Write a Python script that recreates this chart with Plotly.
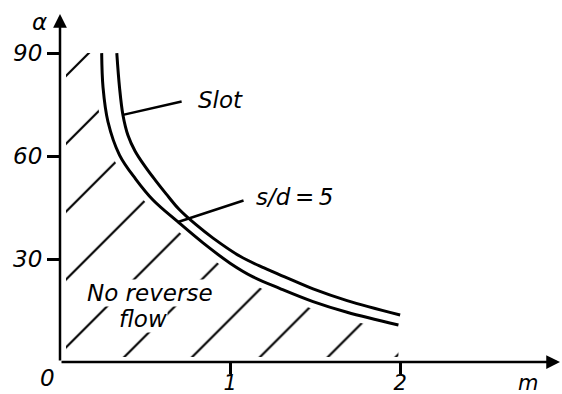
import numpy as np
import plotly.graph_objects as go

# s/d = 5 curve (inner, lower-left)
inner_m = [0.245, 0.253, 0.282, 0.350, 0.445, 0.547, 0.694, 0.841, 1.0, 1.135, 1.294, 1.488, 1.688, 1.99]
inner_a = [90.0, 80.0, 70.0, 60.3, 53.3, 47.2, 40.8, 34.7, 28.8, 24.8, 21.4, 17.6, 14.5, 10.8]

# Slot curve (outer, upper-right)
outer_m = [0.334, 0.350, 0.370, 0.400, 0.441, 0.50, 0.56, 0.624, 0.70, 0.80, 0.90, 1.059, 1.20, 1.335, 1.488, 1.688, 2.0]
outer_a = [90.0, 80.0, 72.0, 66.0, 61.5, 57.0, 53.0, 49.0, 44.5, 40.0, 36.1, 30.8, 27.4, 24.5, 21.3, 17.9, 13.7]

x_ticks = [1, 2]
y_ticks = [30, 60, 90]

X_MAX = 2.94
Y_MAX = 101.4

FONT = "DejaVu Sans"


def px(m):
    return m / X_MAX


def py(a):
    return a / Y_MAX


fig = go.Figure()

# hatched "no reverse flow" region (bounded by axes and s/d=5 curve)
fig.add_trace(go.Scatter(
    x=[0.0] + inner_m, y=[inner_a[0]] + inner_a,
    mode="none", fill="tozeroy", fillcolor="white",
    fillpattern=dict(shape="/", fgcolor="black", bgcolor="white", fgopacity=1,
                     size=48, solidity=0.045),
    hoverinfo="skip", showlegend=False,
))

# white bands so the hatching stops short of the curve and axes
fig.add_trace(go.Scatter(x=inner_m, y=inner_a, mode="lines",
                         line=dict(color="white", width=14, shape="spline"),
                         hoverinfo="skip", showlegend=False))
fig.add_trace(go.Scatter(x=[0, 0], y=[0, inner_a[0]], mode="lines",
                         line=dict(color="white", width=12),
                         hoverinfo="skip", showlegend=False))
fig.add_trace(go.Scatter(x=[0, inner_m[-1]], y=[0, 0], mode="lines",
                         line=dict(color="white", width=10),
                         hoverinfo="skip", showlegend=False))

fig.add_trace(go.Scatter(x=inner_m, y=inner_a, mode="lines",
                         line=dict(color="black", width=3, shape="spline"),
                         showlegend=False))
fig.add_trace(go.Scatter(x=outer_m, y=outer_a, mode="lines",
                         line=dict(color="black", width=3, shape="spline"),
                         showlegend=False))

# axes with arrowheads
fig.add_annotation(x=0, y=Y_MAX, ax=0, ay=0, xref="x", yref="y", axref="x", ayref="y",
                   showarrow=True, arrowhead=2, arrowsize=1.1, arrowwidth=2.5,
                   arrowcolor="black", text="", standoff=0)
fig.add_annotation(x=X_MAX, y=0, ax=0, ay=0, xref="x", yref="y", axref="x", ayref="y",
                   showarrow=True, arrowhead=2, arrowsize=1.1, arrowwidth=2.5,
                   arrowcolor="black", text="", standoff=0)

# leader lines
slot_m = 0.37
slot_a = float(np.interp(slot_m, outer_m, outer_a))
fig.add_annotation(x=slot_m, y=slot_a, ax=0.724, ay=76.0, xref="x", yref="y",
                   axref="x", ayref="y", showarrow=True, arrowhead=0, arrowwidth=2.5,
                   arrowcolor="black", text="", standoff=0)
sd_m = 0.694
sd_a = float(np.interp(sd_m, inner_m, inner_a))
fig.add_annotation(x=sd_m, y=sd_a, ax=1.088, ay=47.2, xref="x", yref="y",
                   axref="x", ayref="y", showarrow=True, arrowhead=0, arrowwidth=2.5,
                   arrowcolor="black", text="", standoff=0)

tf = dict(family=FONT, size=23, color="black", style="italic")
fig.add_annotation(x=0.80, y=76.3, text="Slot", showarrow=False, xanchor="left", font=tf)
fig.add_annotation(x=1.14, y=48.1, text="s/d\u2009=\u20095", showarrow=False,
                   xanchor="left", font=tf)
fig.add_annotation(x=0.53, y=20.2, text="No reverse", showarrow=False, font=tf,
                   bgcolor="white", borderpad=0)
fig.add_annotation(x=0.49, y=12.4, text="flow", showarrow=False, font=tf,
                   bgcolor="white", borderpad=0)
fig.add_annotation(x=px(-0.12), y=py(99.0), xref="paper", yref="paper", text="α",
                   xanchor="center", yanchor="middle", showarrow=False, font=tf)
fig.add_annotation(x=px(2.75), y=py(-6.0), xref="paper", yref="paper", text="m",
                   xanchor="center", yanchor="middle", showarrow=False,
                   font=dict(family=FONT, size=21, color="black", style="italic"))
fig.add_annotation(x=px(-0.075), y=py(-4.6), xref="paper", yref="paper", text="0",
                   xanchor="center", yanchor="middle", showarrow=False, font=tf)

xtf = dict(family=FONT, size=21, color="black", style="italic")
fig.update_xaxes(range=[0, X_MAX], tickvals=x_ticks, ticktext=[str(v) for v in x_ticks],
                 ticks="outside", ticklen=11, tickwidth=2.5, tickcolor="black",
                 tickfont=xtf, ticklabelstandoff=-9, showgrid=False, zeroline=False,
                 showline=False, automargin=False)
fig.update_yaxes(range=[0, Y_MAX], tickvals=y_ticks, ticktext=[str(v) for v in y_ticks],
                 ticks="outside", ticklen=12, tickwidth=2.5, tickcolor="black",
                 tickfont=tf, showgrid=False, zeroline=False, showline=False,
                 automargin=False)

fig.update_layout(width=562, height=394, margin=dict(l=60, r=2, t=14, b=32),
                  plot_bgcolor="white", paper_bgcolor="white")

fig.write_html("out.html")
